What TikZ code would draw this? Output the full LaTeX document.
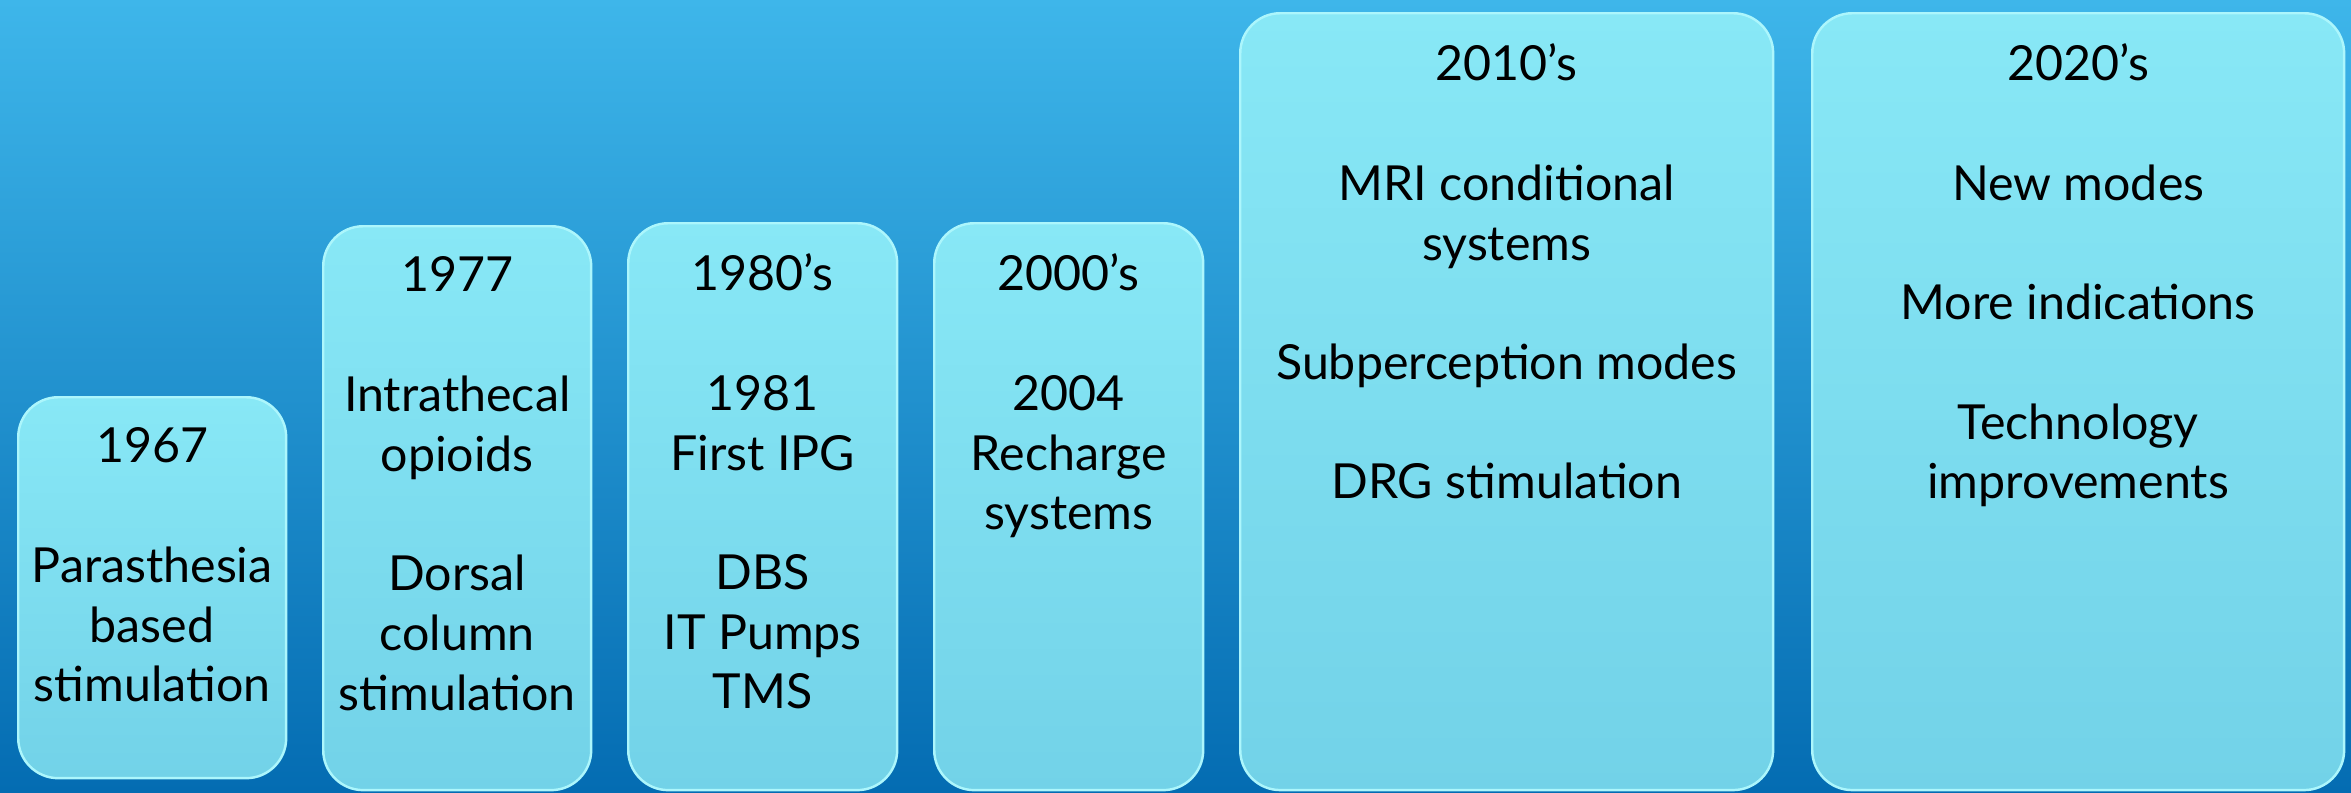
\documentclass[tikz,border=0pt]{standalone}
\usepackage{fontspec}
\setmainfont{Lato}
\usetikzlibrary{positioning}
\definecolor{bgtop}{RGB}{62,182,234}
\definecolor{bgmid}{RGB}{30,146,212}
\definecolor{bgbot}{RGB}{4,108,178}
\definecolor{boxtop}{RGB}{136,232,246}
\definecolor{boxbot}{RGB}{114,210,232}
\definecolor{boxline}{RGB}{172,246,252}
\tikzset{
  era/.style    = {draw=boxline, line width=1.4pt, rounded corners=0.8cm,
                   top color=boxtop, bottom color=boxbot,
                   anchor=north west, inner sep=0pt},
  events/.style = {align=center, inner sep=0pt, text=black,
                   font=\fontsize{27.5}{34}\selectfont}
}

\begin{document}
\begin{tikzpicture}[x=0.02cm, y=-0.02cm]

% backdrop
\fill[top color=bgtop, middle color=bgmid, bottom color=bgbot] (0,0) rectangle (2351,792);

% the era boxes, one per period
\node[era, minimum width=5.36cm, minimum height=7.62cm]  (b1) at (17,396)  {};
\node[era, minimum width=5.36cm, minimum height=11.28cm] (b2) at (322,225) {};
\node[era, minimum width=5.38cm, minimum height=11.34cm] (b3) at (627,222) {};
\node[era, minimum width=5.38cm, minimum height=11.34cm] (b4) at (933,222) {};
\node[era, minimum width=10.66cm, minimum height=15.54cm] (b5) at (1239,12) {};
\node[era, minimum width=10.64cm, minimum height=15.54cm] (b6) at (1811,12) {};

% texts, hung below the top of each box
\node[events, below=0.63cm of b1.north] (t1)
  {1967\\[34pt] Parasthesia\\ based\\ stimulation};
\node[events, below=0.63cm of b2.north] (t2)
  {1977\\[34pt] Intrathecal\\ opioids\\[34pt] Dorsal\\ column\\ stimulation};
\node[events, below=0.63cm of b3.north] (t3)
  {1980's\\[34pt] 1981\\ First IPG\\[34pt] DBS\\ IT Pumps\\ TMS};
\node[events, below=0.63cm of b4.north] (t4)
  {2000's\\[34pt] 2004\\ Recharge\\ systems};
\node[events, below=0.63cm of b5.north] (t5)
  {2010's\\[34pt] MRI conditional\\ systems\\[34pt] Subperception modes\\[34pt] DRG stimulation};
\node[events, below=0.63cm of b6.north] (t6)
  {2020's\\[34pt] New modes\\[34pt] More indications\\[34pt] Technology\\ improvements};

\end{tikzpicture}
\end{document}
